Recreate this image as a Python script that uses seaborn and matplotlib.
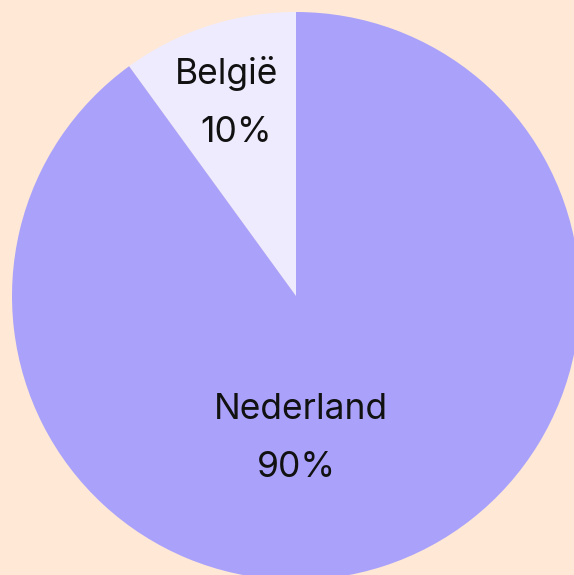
import matplotlib
matplotlib.use("Agg")
import matplotlib.pyplot as plt
import seaborn as sns

categories = ["België", "Nederland"]
values = [10, 90]
pct_labels = ["10%", "90%"]

sns.set_theme(style="white")
plt.rcParams['font.family'] = ['Inter', 'DejaVu Sans']

bg = "#FFE9D6"
colors = ["#EEEBFF", "#AAA2FA"]

fig = plt.figure(figsize=(5.74, 5.75), dpi=100, facecolor=bg)
R = 284
cx, cy = 296, 296
ax = fig.add_axes([(cx - R) / 574, (575 - cy - R) / 575, 2 * R / 574, 2 * R / 575])
ax.set_facecolor(bg)
wedges, _ = ax.pie(values, colors=colors, startangle=90, counterclock=True,
                   radius=1, wedgeprops=dict(linewidth=0))
ax.set_xlim(-1, 1)
ax.set_ylim(-1, 1)
ax.set_aspect('auto')
ax.axis('off')

# label anchors (name line, percent line) in pie units
name_pos = [(-0.246, 0.746), (0.019, -0.433)]
pct_pos = [(-0.2095, 0.542), (0.002, -0.637)]
fs = 25.5
for cat, pct, npos, ppos in zip(categories, pct_labels, name_pos, pct_pos):
    ax.text(npos[0], npos[1], cat, ha='center', va='baseline', fontsize=fs,
            color='#111111', fontweight='normal')
    ax.text(ppos[0], ppos[1], pct, ha='center', va='baseline', fontsize=fs,
            color='#111111', fontweight='normal')

fig.savefig("out.png", dpi=100, facecolor=bg)
